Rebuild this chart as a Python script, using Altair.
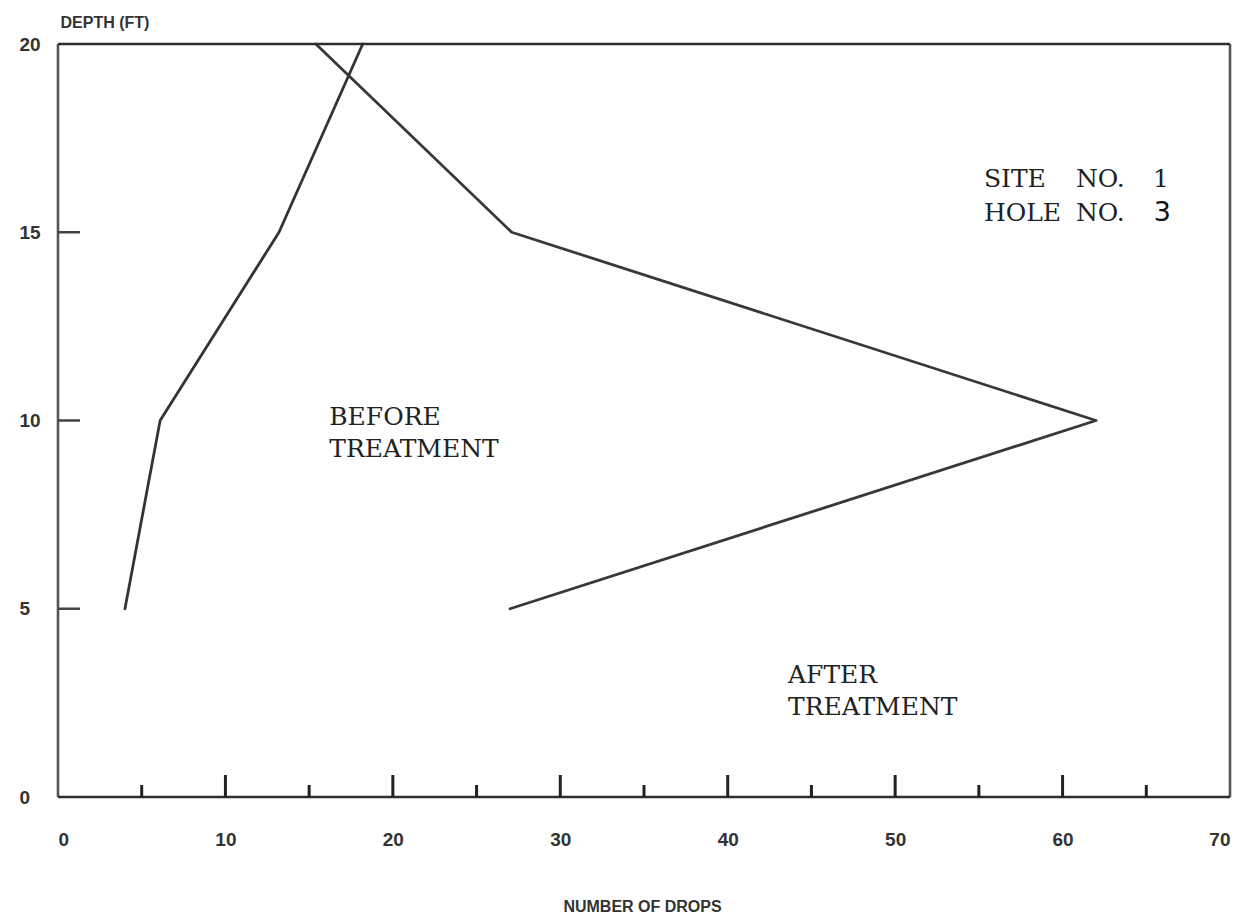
import altair as alt
import pandas as pd

# ---- data ----
depth = [5, 10, 15, 20]
before_drops = [4.0, 6.1, 13.2, 18.2]
after_drops = [27.0, 62.0, 27.1, 15.4]

x_ticks = [0, 10, 20, 30, 40, 50, 60, 70]
y_ticks = [0, 5, 10, 15, 20]
major_x = [10, 20, 30, 40, 50, 60]
minor_x = [5, 15, 25, 35, 45, 55, 65]
inner_y = [5, 10, 15]

# typewriter annotations (word by word, as on the fixed-pitch original)
ann_text = ["BEFORE", "TREATMENT", "AFTER", "TREATMENT", "SITE", "NO.", "1", "HOLE", "NO."]
ann_x = [16.2, 16.2, 43.6, 43.6, 55.3, 60.8, 65.4, 55.3, 60.8]
ann_y = [9.88, 9.03, 3.03, 2.18, 16.2, 16.2, 16.2, 15.3, 15.3]
hole_num = "3"
hole_num_x = 65.45
hole_num_y = 15.3

W, H = 1172, 753

lines_df = pd.DataFrame(
    {"depth": depth * 2,
     "drops": before_drops + after_drops,
     "series": ["Before"] * 4 + ["After"] * 4}
)
ann_df = pd.DataFrame({"t": ann_text, "x": ann_x, "y": ann_y})
num_df = pd.DataFrame({"t": [hole_num], "x": [hole_num_x], "y": [hole_num_y]})
xt_major = pd.DataFrame({"x": major_x})
xt_minor = pd.DataFrame({"x": minor_x})
yt = pd.DataFrame({"y": inner_y})

label_font = "Liberation Sans, Arial, sans-serif"

xscale = alt.Scale(domain=[0, 70], nice=False, zero=False)
yscale = alt.Scale(domain=[0, 20], nice=False, zero=False)

xaxis = alt.Axis(
    values=x_ticks, ticks=False, domain=False, grid=False,
    labelFont=label_font, labelFontWeight="bold", labelFontSize=19, labelColor="#333333",
    labelPadding=33, title="NUMBER OF DROPS", titleFont=label_font, titleFontWeight="bold",
    titleFontSize=16, titleColor="#333333", titleX=584, titleY=117,
    titleBaseline="bottom", titleAlign="center",
)
yaxis = alt.Axis(
    values=y_ticks, ticks=False, domain=False, grid=False,
    labelFont=label_font, labelFontWeight="bold", labelFontSize=19, labelColor="#333333",
    labelAlign="left", labelPadding=39, labelBaseline="middle",
    title="DEPTH (FT)", titleFont=label_font, titleFontWeight="bold", titleFontSize=16,
    titleColor="#333333", titleAngle=0, titleAlign="left", titleBaseline="bottom",
    titleX=2, titleY=-14,
)

lines = alt.Chart(lines_df).mark_line(strokeWidth=2.8, strokeCap="round", strokeJoin="round").encode(
    x=alt.X("drops:Q", scale=xscale, axis=xaxis),
    y=alt.Y("depth:Q", scale=yscale, axis=yaxis),
    detail="series:N",
    order=alt.Order("depth:Q"),
    color=alt.Color("series:N", scale=alt.Scale(domain=["Before", "After"], range=["#333333", "#383838"]), legend=None),
)

# frame (left/right lighter grey, top/bottom darker as in the scan)
frame_v = alt.Chart(pd.DataFrame({"x": [0, 70]})).mark_rule(color="#555555", strokeWidth=2.6).encode(
    x=alt.X("x:Q", scale=xscale), y=alt.value(0), y2=alt.value(H)
)
frame_h = alt.Chart(pd.DataFrame({"y": [0, 20]})).mark_rule(color="#2e2e2e", strokeWidth=2.6).encode(
    y=alt.Y("y:Q", scale=yscale), x=alt.value(0), x2=alt.value(W)
)

tick_major = alt.Chart(xt_major).mark_rule(color="#222222", strokeWidth=3).encode(
    x=alt.X("x:Q", scale=xscale), y=alt.value(H), y2=alt.value(H - 22)
)
tick_minor = alt.Chart(xt_minor).mark_rule(color="#222222", strokeWidth=3).encode(
    x=alt.X("x:Q", scale=xscale), y=alt.value(H), y2=alt.value(H - 12)
)
tick_y = alt.Chart(yt).mark_rule(color="#444444", strokeWidth=2.5).encode(
    y=alt.Y("y:Q", scale=yscale), x=alt.value(0), x2=alt.value(22)
)

ann = alt.Chart(ann_df).mark_text(
    font="DejaVu Serif, serif", fontSize=25,
    align="left", baseline="alphabetic", color="#222222",
).encode(x=alt.X("x:Q", scale=xscale), y=alt.Y("y:Q", scale=yscale), text="t:N")

num = alt.Chart(num_df).mark_text(
    font="DejaVu Sans, Noto Sans, sans-serif", fontSize=27,
    align="left", baseline="alphabetic", color="#111111",
).encode(x=alt.X("x:Q", scale=xscale), y=alt.Y("y:Q", scale=yscale), text="t:N")

chart = alt.layer(lines, frame_v, frame_h, tick_major, tick_minor, tick_y, ann, num).properties(
    width=W, height=H,
    autosize=alt.AutoSizeParams(type="none"),
    padding={"left": 50, "top": 36, "right": 20, "bottom": 120},
).configure_view(stroke=None).configure(background="white")

chart.save("out.html", embed_options={"renderer": "svg", "actions": False})
